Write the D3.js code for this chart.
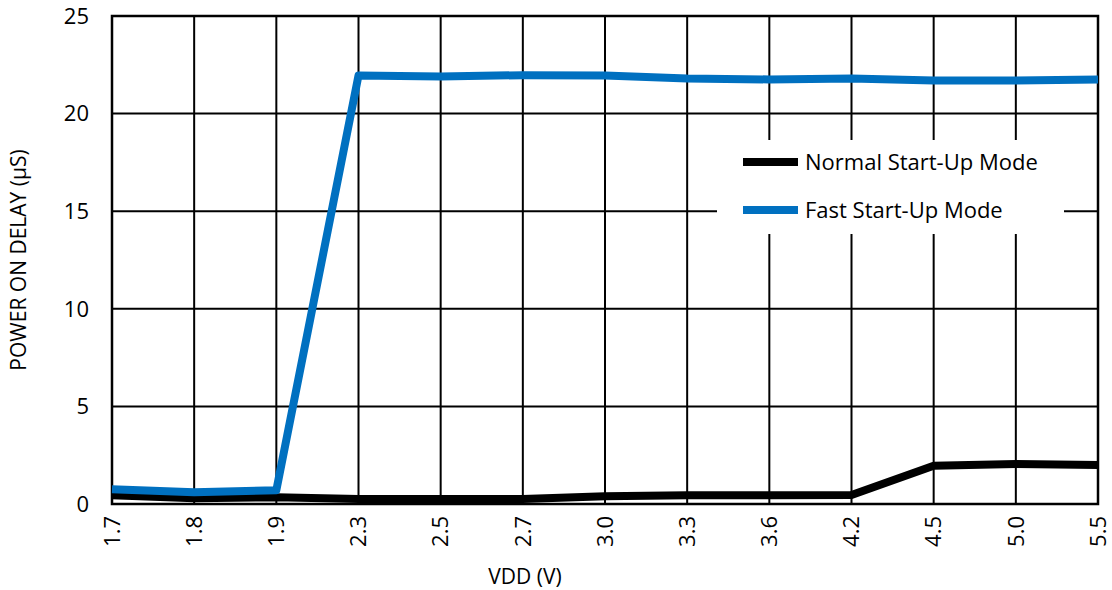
<!DOCTYPE html>
<html>
<head>
<meta charset="utf-8">
<script src="https://cdn.jsdelivr.net/npm/d3@7"></script>
<style>
  body { margin: 0; background: #fff; }
  text { font-family: "Open Sans", "Noto Sans", sans-serif; fill: #000; }
</style>
</head>
<body>
<div id="chart"></div>
<script>
// chart values
const vdd = ['1.7', '1.8', '1.9', '2.3', '2.5', '2.7', '3.0', '3.3', '3.6', '4.2', '4.5', '5.0', '5.5'];
const normal_mode = [0.45, 0.3, 0.35, 0.25, 0.25, 0.25, 0.4, 0.45, 0.45, 0.46, 1.96, 2.05, 2.0];
const fast_mode = [0.75, 0.6, 0.7, 21.95, 21.9, 21.97, 21.95, 21.8, 21.75, 21.8, 21.7, 21.7, 21.75];
const y_ticks = [0, 5, 10, 15, 20, 25];
const series_names = ['Normal Start-Up Mode', 'Fast Start-Up Mode'];
const series_colors = ['#000000', '#0070c0'];

const width = 1112, height = 590;
const margin = { left: 112, right: 14, top: 16, bottom: 86 };

const svg = d3.select('#chart')
    .append('svg')
    .attr('width', width)
    .attr('height', height);

const x = d3.scalePoint()
    .domain(vdd)
    .range([margin.left, width - margin.right]);

const y = d3.scaleLinear()
    .domain([0, 25])
    .range([height - margin.bottom, margin.top]);

// grid lines
const grid = svg.append('g');
grid.selectAll('.vgrid')
    .data(vdd)
    .enter().append('line')
    .attr('x1', d => x(d)).attr('x2', d => x(d))
    .attr('y1', y(25)).attr('y2', y(0))
    .attr('stroke', '#000').attr('stroke-width', 2);
grid.selectAll('.hgrid')
    .data(y_ticks)
    .enter().append('line')
    .attr('x1', x(vdd[0])).attr('x2', x(vdd[vdd.length - 1]))
    .attr('y1', d => y(d)).attr('y2', d => y(d))
    .attr('stroke', '#000').attr('stroke-width', 2);

// frame
svg.append('rect')
    .attr('x', x(vdd[0]))
    .attr('y', y(25))
    .attr('width', x(vdd[vdd.length - 1]) - x(vdd[0]))
    .attr('height', y(0) - y(25))
    .attr('fill', 'none')
    .attr('stroke', '#000')
    .attr('stroke-width', 2.5);

// y tick labels
svg.append('g')
    .selectAll('text')
    .data(y_ticks)
    .enter().append('text')
    .attr('x', 89)
    .attr('y', d => y(d))
    .attr('dy', '0.35em')
    .attr('text-anchor', 'end')
    .style('font-size', '22px')
    .text(d => d);

// x tick labels, rotated
svg.append('g')
    .selectAll('text')
    .data(vdd)
    .enter().append('text')
    .attr('transform', d => 'translate(' + x(d) + ',' + (y(0) + 12) + ') rotate(-90)')
    .attr('dy', '0.35em')
    .attr('text-anchor', 'end')
    .style('font-size', '22px')
    .text(d => d);

// axis titles
svg.append('text')
    .attr('x', 525)
    .attr('y', 584)
    .attr('text-anchor', 'middle')
    .style('font-size', '21px')
    .text('VDD (V)');

svg.append('text')
    .attr('transform', 'translate(26,260) rotate(-90)')
    .attr('text-anchor', 'middle')
    .style('font-size', '21px')
    .text('POWER ON DELAY (µS)');

// legend background covers grid lines
svg.append('rect')
    .attr('x', 717).attr('y', 140)
    .attr('width', 347).attr('height', 94)
    .attr('fill', '#fff');

// series lines
const line = d3.line()
    .x((d, i) => x(vdd[i]))
    .y(d => y(d));

[normal_mode, fast_mode].forEach(function (values, i) {
    svg.append('path')
        .datum(values)
        .attr('d', line)
        .attr('fill', 'none')
        .attr('stroke', series_colors[i])
        .attr('stroke-width', 8)
        .attr('stroke-linejoin', 'round');
});

// legend
const legend = svg.append('g');
series_names.forEach(function (name, i) {
    let ly = 162 + i * 48;
    legend.append('line')
        .attr('x1', 743).attr('x2', 798)
        .attr('y1', ly).attr('y2', ly)
        .attr('stroke', series_colors[i])
        .attr('stroke-width', 8);
    legend.append('text')
        .attr('x', 805)
        .attr('y', ly)
        .attr('dy', '0.35em')
        .style('font-size', '22px')
        .text(name);
});
</script>
</body>
</html>
